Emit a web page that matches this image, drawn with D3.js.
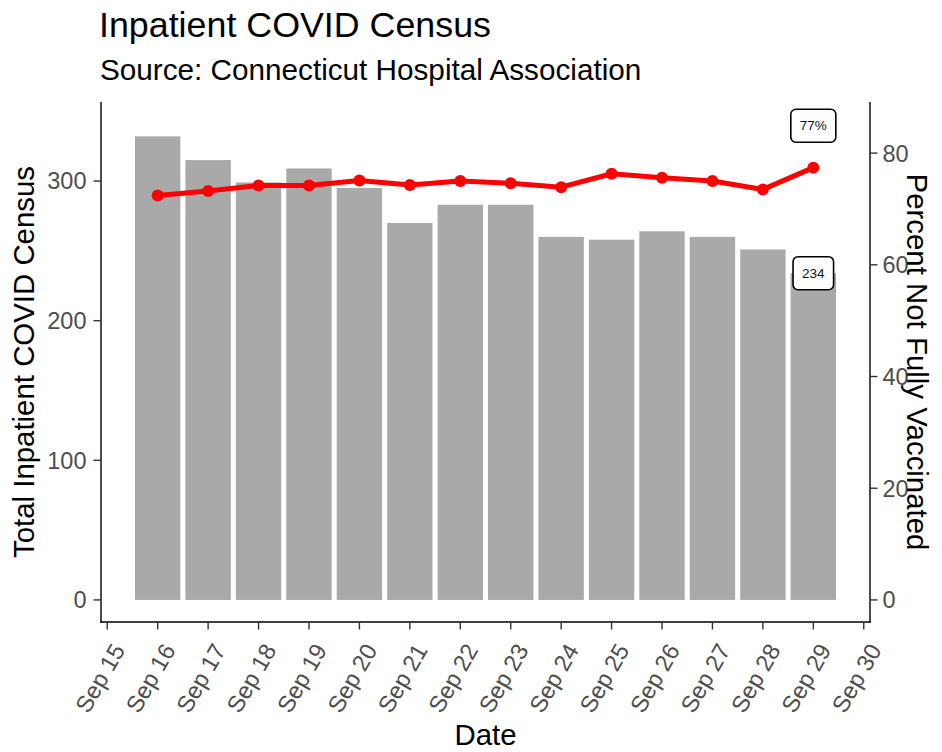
<!DOCTYPE html>
<html>
<head>
<meta charset="utf-8">
<script src="https://cdn.jsdelivr.net/npm/d3@7"></script>
<style>
  html, body { margin: 0; padding: 0; background: #fff; }
  svg { display: block; }
  text { font-family: "Liberation Sans", Arial, sans-serif; }
</style>
</head>
<body>
<svg id="chart" width="942" height="752"></svg>
<script>
// ---- data ----
const dates = ["2021-09-16","2021-09-17","2021-09-18","2021-09-19","2021-09-20","2021-09-21","2021-09-22",
               "2021-09-23","2021-09-24","2021-09-25","2021-09-26","2021-09-27","2021-09-28","2021-09-29"];
const census = [332, 315, 299, 309, 295, 270, 283, 283, 260, 258, 264, 260, 251, 234];
const pctNotVax = [72.4, 73.2, 74.2, 74.2, 75.1, 74.3, 75.0, 74.6, 73.9, 76.3, 75.6, 75.0, 73.5, 77.4];
const leftTicks = [0, 100, 200, 300];
const rightTicks = [0, 20, 40, 60, 80];
const secFactor = 4;           // census = percent * 4 on the secondary axis
const labelOffset = 30;        // percent label sits 30 census-units above the point
const titleText = "Inpatient COVID Census";
const subtitleText = "Source: Connecticut Hospital Association";
const xTitle = "Date";
const yTitle = "Total Inpatient COVID Census";
const y2Title = "Percent Not Fully Vaccinated";

// ---- layout ----
const svg = d3.select("#chart");
const panel = { left: 101, right: 870, top: 102, bottom: 622 };
const parse = d3.utcParse("%Y-%m-%d");
const dayMs = 86400000;
const dateObjs = dates.map(parse);
const pad = 1.124 * dayMs;

const x = d3.scaleUtc()
  .domain([new Date(+dateObjs[0] - pad), new Date(+dateObjs[dateObjs.length - 1] + pad)])
  .range([panel.left, panel.right]);
const y = d3.scaleLinear().domain([-15.8, 356.6]).range([panel.bottom, panel.top]);
const y2 = d3.scaleLinear().domain(y.domain().map(v => v / secFactor)).range([panel.bottom, panel.top]);

const barW = x(new Date(+dateObjs[0] + 0.9 * dayMs)) - x(dateObjs[0]);
const tickCol = "#333333", tickTextCol = "#4d4d4d";

// bars
svg.append("g").selectAll("rect").data(census).join("rect")
  .attr("x", (d, i) => x(dateObjs[i]) - barW / 2)
  .attr("width", barW)
  .attr("y", d => y(d))
  .attr("height", d => y(0) - y(d))
  .attr("fill", "#a9a9a9");

// line + points
const line = d3.line().x((d, i) => x(dateObjs[i])).y(d => y(d * secFactor));
svg.append("path").datum(pctNotVax)
  .attr("d", line).attr("fill", "none").attr("stroke", "#ff0000")
  .attr("stroke-width", 5).attr("stroke-linejoin", "round");
svg.append("g").selectAll("circle").data(pctNotVax).join("circle")
  .attr("cx", (d, i) => x(dateObjs[i])).attr("cy", d => y(d * secFactor))
  .attr("r", 6).attr("fill", "#ff0000");

// labels (geom_label style)
function boxLabel(cx, cy, txt) {
  const g = svg.append("g");
  const t = g.append("text").attr("x", cx).attr("y", cy).attr("text-anchor", "middle")
    .attr("dy", "0.35em").attr("font-size", 13.5).attr("fill", "#111").text(txt);
  const w = t.node().getComputedTextLength() + 18;
  const h = 33;
  g.insert("rect", "text").attr("x", cx - w / 2).attr("y", cy - h / 2)
    .attr("width", w).attr("height", h).attr("rx", 5).attr("ry", 5)
    .attr("fill", "#fff").attr("stroke", "#000").attr("stroke-width", 1.6);
}
const lastI = dates.length - 1;
boxLabel(x(dateObjs[lastI]), y(pctNotVax[lastI] * secFactor + labelOffset), Math.round(pctNotVax[lastI]) + "%");
boxLabel(x(dateObjs[lastI]), y(census[lastI]), String(census[lastI]));

// axes
const tickLen = 7.5;
const axisG = svg.append("g");
// left axis
axisG.append("line").attr("x1", panel.left).attr("x2", panel.left).attr("y1", panel.top).attr("y2", panel.bottom + 0.7)
  .attr("stroke", "#000").attr("stroke-width", 1.4);
axisG.selectAll(".lt").data(leftTicks).join("line")
  .attr("x1", panel.left - tickLen).attr("x2", panel.left).attr("y1", d => y(d)).attr("y2", d => y(d))
  .attr("stroke", tickCol).attr("stroke-width", 1.4);
axisG.selectAll(".ltt").data(leftTicks).join("text")
  .attr("x", panel.left - tickLen - 7).attr("y", d => y(d)).attr("dy", "0.36em")
  .attr("text-anchor", "end").attr("font-size", 23.5).attr("fill", tickTextCol).text(d => d);
// right axis
axisG.append("line").attr("x1", panel.right).attr("x2", panel.right).attr("y1", panel.top).attr("y2", panel.bottom + 0.7)
  .attr("stroke", "#000").attr("stroke-width", 1.4);
axisG.selectAll(".rt").data(rightTicks).join("line")
  .attr("x1", panel.right).attr("x2", panel.right + tickLen).attr("y1", d => y2(d)).attr("y2", d => y2(d))
  .attr("stroke", tickCol).attr("stroke-width", 1.4);
axisG.selectAll(".rtt").data(rightTicks).join("text")
  .attr("x", panel.right + tickLen + 5).attr("y", d => y2(d)).attr("dy", "0.36em")
  .attr("text-anchor", "start").attr("font-size", 23.5).attr("fill", tickTextCol).text(d => d);
// bottom axis
axisG.append("line").attr("x1", panel.left - 0.7).attr("x2", panel.right + 0.7).attr("y1", panel.bottom).attr("y2", panel.bottom)
  .attr("stroke", "#000").attr("stroke-width", 1.4);
const xTicks = x.ticks(d3.utcDay.every(1));
const fmt = d3.utcFormat("%b %-d");
axisG.selectAll(".bt").data(xTicks).join("line")
  .attr("x1", d => x(d)).attr("x2", d => x(d)).attr("y1", panel.bottom).attr("y2", panel.bottom + tickLen)
  .attr("stroke", tickCol).attr("stroke-width", 1.4);
axisG.selectAll(".btt").data(xTicks).join("text")
  .attr("transform", d => `translate(${x(d) + 18.5},${650}) rotate(-60)`)
  .attr("text-anchor", "end").attr("font-size", 23.5).attr("fill", tickTextCol).text(d => fmt(d));

// titles
svg.append("text").attr("x", 99).attr("y", 37).attr("font-size", 35.8).attr("fill", "#000").text(titleText);
svg.append("text").attr("x", 100).attr("y", 80).attr("font-size", 29.7).attr("fill", "#000").text(subtitleText);
svg.append("text").attr("x", (panel.left + panel.right) / 2).attr("y", 745).attr("text-anchor", "middle")
  .attr("font-size", 29.4).attr("fill", "#000").text(xTitle);
svg.append("text").attr("transform", `translate(34,${(panel.top + panel.bottom) / 2}) rotate(-90)`)
  .attr("text-anchor", "middle").attr("font-size", 29.4).attr("fill", "#000").text(yTitle);
svg.append("text").attr("transform", `translate(907,${(panel.top + panel.bottom) / 2}) rotate(90)`)
  .attr("text-anchor", "middle").attr("font-size", 29.4).attr("fill", "#000").text(y2Title);
</script>
</body>
</html>
